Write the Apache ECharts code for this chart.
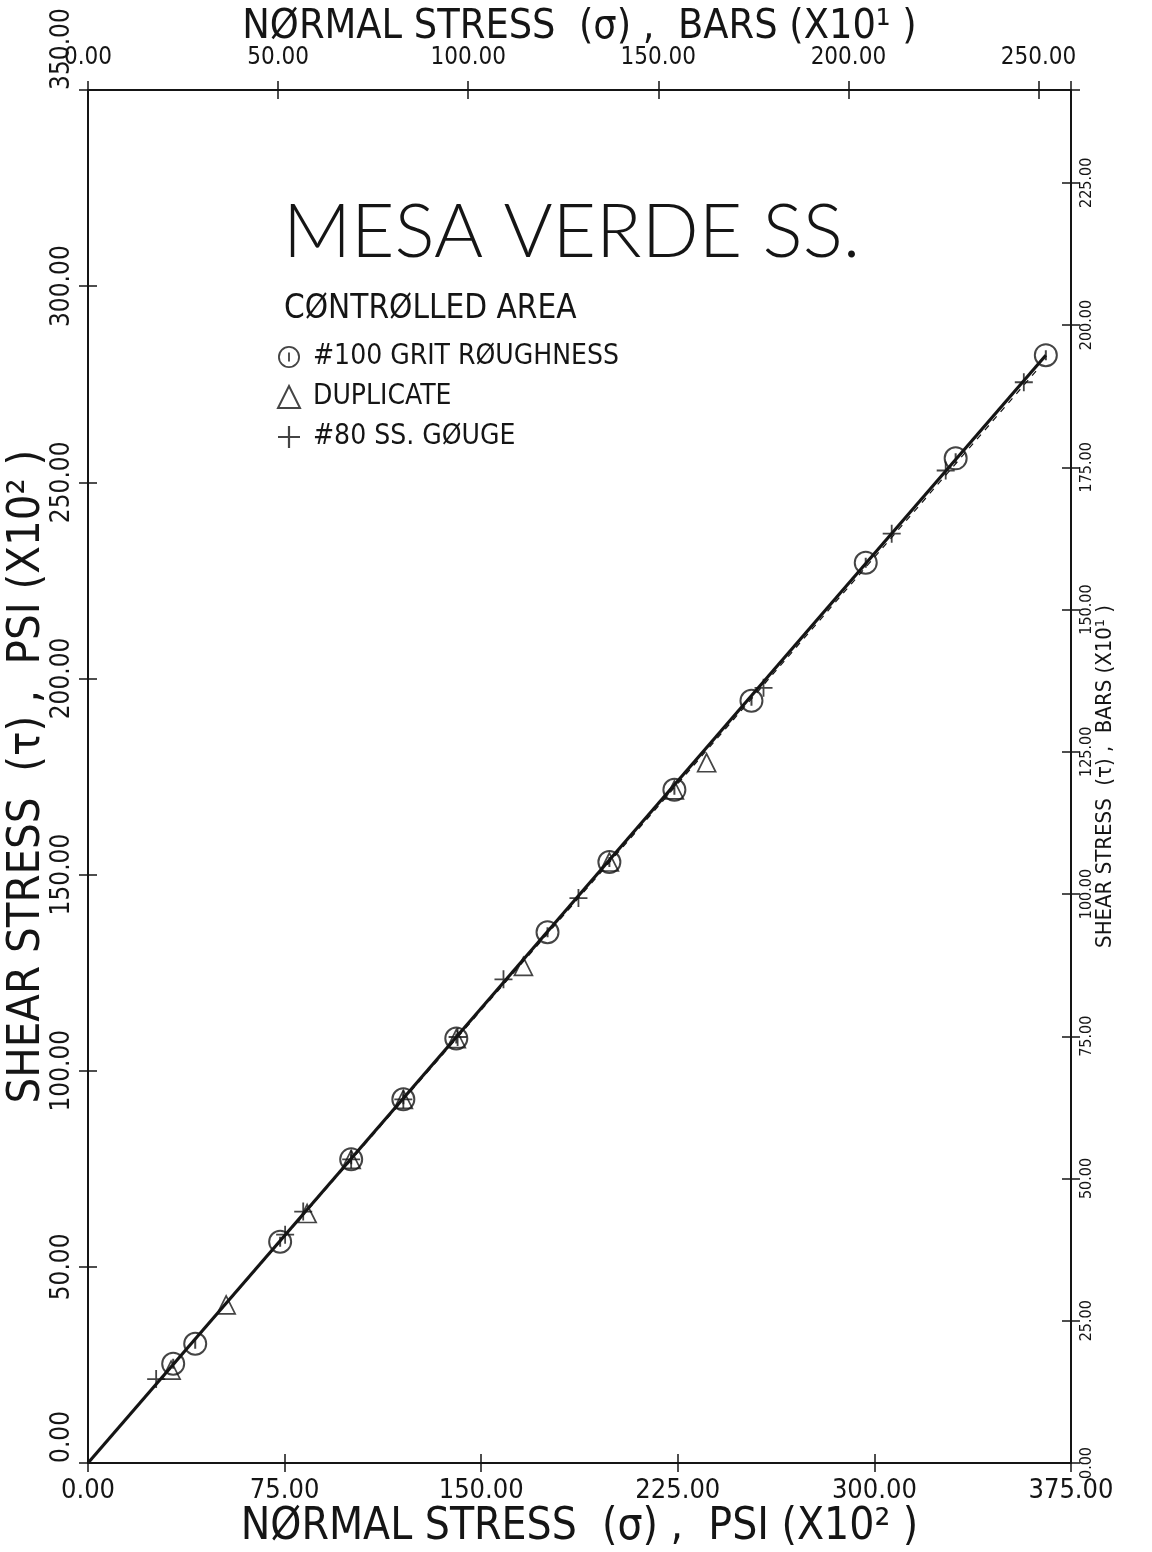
<!DOCTYPE html>
<html>
<head>
<meta charset="utf-8">
<script src="https://cdn.jsdelivr.net/npm/echarts@6/dist/echarts.min.js"></script>
<style>
html,body{margin:0;padding:0;background:#fff;}
#chart{width:1152px;height:1552px;}
</style>
</head>
<body>
<div id="chart"></div>
<script>
// ---- data (normal stress, shear stress in PSI x10^2) ----
const circleX = [32.5, 40.9, 73.3, 100.4, 120.3, 140.5, 175.3, 198.9, 223.7, 253.1, 296.7, 331.0, 365.4];
const circleY = [25.3, 30.4, 56.4, 77.4, 92.7, 108.2, 135.3, 153.2, 171.6, 194.3, 229.5, 256.1, 282.4];
const triX = [31.7, 52.7, 83.6, 100.4, 120.3, 140.5, 166.1, 198.9, 223.7, 236.0];
const triY = [23.7, 40.3, 63.6, 77.4, 92.7, 108.2, 126.6, 153.2, 171.6, 178.5];
const plusX = [26.0, 75.2, 82.1, 100.4, 120.3, 141.0, 158.5, 187.1, 257.7, 306.6, 327.2, 357.0];
const plusY = [21.4, 58.2, 64.1, 77.4, 92.7, 108.6, 123.3, 144.0, 197.6, 236.9, 253.0, 275.5];
const fitX = [0, 365.4];
const fitY = [0, 282.4];
const fit2X = [0, 362.0];
const fit2Y = [0, 278.6];
const barXTicks = [0, 50, 100, 150, 200, 250];
const barYTicks = [0, 25, 50, 75, 100, 125, 150, 175, 200, 225];
const seriesNames = ['#100 GRIT RØUGHNESS', 'DUPLICATE', '#80 SS. GØUGE'];
const titleText = 'MESA VERDE SS.';
const subTitleText = 'CØNTRØLLED AREA';
const bottomName = 'NØRMAL STRESS  (σ) ,  PSI (X10² )';
const topName = 'NØRMAL STRESS  (σ) ,  BARS (X10¹ )';
const leftName = 'SHEAR STRESS  (τ) ,  PSI (X10² )';
const rightName = 'SHEAR STRESS  (τ) ,  BARS (X10¹ )';
const PSI_PER_BAR = 14.504;

const FONT = '"DejaVu Sans Condensed", "Liberation Sans Narrow", "DejaVu Sans", sans-serif';
const TFONT = 'Lato, "DejaVu Sans", sans-serif';
const INK = '#151515';
const zip = (a, b) => a.map((v, i) => [v, b[i]]);
const fmt2 = v => v.toFixed(2);

const xMaxBar = 375 * 100 / PSI_PER_BAR / 10;
const yMaxBar = 350 * 100 / PSI_PER_BAR / 10;

const GRID = { left: 88, top: 90, width: 983, height: 1373, outerBoundsMode: 'none', containLabel: false };

function axisBase(extra) {
  return Object.assign({
    type: 'value',
    nameMoveOverlap: false,
    splitLine: { show: false },
    axisLine: { show: true, onZero: false, lineStyle: { color: INK, width: 2 } },
    axisTick: { show: true, inside: false, length: 9, lineStyle: { color: INK, width: 1.5 } },
    axisLabel: { color: INK, fontFamily: FONT },
    nameTextStyle: { color: INK, fontFamily: FONT }
  }, extra);
}
function innerTicks(extra) {
  return axisBase(Object.assign({
    gridIndex: 1,
    axisLine: { show: false, onZero: false },
    axisTick: { show: true, inside: true, length: 9, lineStyle: { color: INK, width: 1.5 } },
    axisLabel: { show: false }
  }, extra));
}

const ringPath = 'path://M12,0A12,12 0 1,1 12,24A12,12 0 1,1 12,0Z' +
  'M12,2A10,10 0 1,0 12,22A10,10 0 1,0 12,2Z' +
  'M11,7H13V17H11Z';

const chart = echarts.init(document.getElementById('chart'), null, { renderer: 'canvas' });
const hollow = { color: 'rgba(0,0,0,0)', borderColor: INK, borderWidth: 1.7 };

chart.setOption({
  backgroundColor: '#ffffff',
  animation: false,
  grid: [Object.assign({}, GRID), Object.assign({}, GRID)],
  xAxis: [
    axisBase({
      gridIndex: 0, position: 'bottom', min: 0, max: 375, interval: 75,
      axisLabel: { color: INK, fontFamily: FONT, fontSize: 27, margin: 14, formatter: fmt2 },
      name: bottomName, nameLocation: 'middle', nameGap: 43,
      nameTextStyle: { color: INK, fontFamily: FONT, fontSize: 44 }
    }),
    axisBase({
      gridIndex: 0, position: 'top', min: 0, max: xMaxBar, interval: 50,
      axisLabel: {
        color: INK, fontFamily: FONT, fontSize: 24, margin: 20,
        formatter: v => (barXTicks.indexOf(v) >= 0 ? fmt2(v) : '')
      },
      name: topName, nameLocation: 'middle', nameGap: 42,
      nameTextStyle: { color: INK, fontFamily: FONT, fontSize: 41 }
    }),
    innerTicks({ position: 'bottom', min: 0, max: 375, interval: 75 }),
    innerTicks({ position: 'top', min: 0, max: xMaxBar, interval: 50 })
  ],
  yAxis: [
    axisBase({
      gridIndex: 0, position: 'left', min: 0, max: 350, interval: 50,
      axisLabel: { color: INK, fontFamily: FONT, fontSize: 26, margin: 13, rotate: 90,
        formatter: fmt2, alignMinLabel: 'left', alignMaxLabel: 'left' },
      name: leftName, nameLocation: 'middle', nameGap: 38, nameRotate: 90,
      nameTextStyle: { color: INK, fontFamily: FONT, fontSize: 45 }
    }),
    axisBase({
      gridIndex: 0, position: 'right', min: 0, max: yMaxBar, interval: 25,
      axisLabel: {
        color: INK, fontFamily: FONT, fontSize: 16, margin: 8, rotate: 90,
        formatter: v => (barYTicks.indexOf(v) >= 0 ? fmt2(v) : '')
      },
      name: rightName, nameLocation: 'middle', nameGap: 23, nameRotate: 90,
      nameTextStyle: { color: INK, fontFamily: FONT, fontSize: 22 }
    }),
    innerTicks({ position: 'left', min: 0, max: 350, interval: 50 }),
    innerTicks({ position: 'right', min: 0, max: yMaxBar, interval: 25 })
  ],
  legend: {
    orient: 'vertical', left: 272, top: 338, itemGap: 12,
    itemWidth: 22, itemHeight: 22,
    data: seriesNames,
    formatter: n => ' ' + n,
    textStyle: { color: INK, fontFamily: FONT, fontSize: 28 }
  },
  graphic: [
    { type: 'text', left: 283, top: 195,
      style: { text: titleText, font: '300 75px ' + TFONT, fill: INK } },
    { type: 'text', left: 284, top: 293,
      style: { text: subTitleText, font: '33px ' + FONT, fill: INK } }
  ],
  series: [
    { name: 'fit', type: 'line', xAxisIndex: 0, yAxisIndex: 0, data: zip(fitX, fitY),
      symbol: 'none', lineStyle: { color: INK, width: 3.2 }, z: 1 },
    { name: 'fit2', type: 'line', xAxisIndex: 0, yAxisIndex: 0, data: zip(fit2X, fit2Y),
      symbol: 'none', lineStyle: { color: INK, width: 1.2, type: [6, 6] }, z: 1 },
    { name: seriesNames[0], type: 'scatter', xAxisIndex: 0, yAxisIndex: 0,
      data: zip(circleX, circleY), symbol: ringPath, symbolSize: 24,
      itemStyle: { color: INK }, z: 3 },
    { name: seriesNames[1], type: 'scatter', xAxisIndex: 0, yAxisIndex: 0,
      data: zip(triX, triY), symbol: 'triangle', symbolSize: 18, itemStyle: hollow, z: 3 },
    { name: seriesNames[2], type: 'scatter', xAxisIndex: 0, yAxisIndex: 0,
      data: zip(plusX, plusY), symbol: 'path://M9,0H11V9H20V11H11V20H9V11H0V9H9Z', symbolSize: 18,
      itemStyle: { color: INK }, z: 4 }
  ]
});
</script>
</body>
</html>
